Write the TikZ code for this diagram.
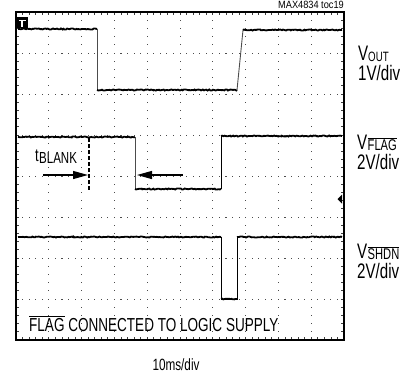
\documentclass[tikz,border=0pt]{standalone}
\usepackage{fontspec}
\setmainfont{Liberation Sans}[FakeStretch=0.72]
\usetikzlibrary{decorations.pathmorphing,arrows.meta}
\newcommand{\ovl}[1]{\ensuremath{\overline{\mbox{#1}}}}
\begin{document}
\begin{tikzpicture}[x=1pt,y=-1pt,
  trace/.style={line width=1.8pt, decorate, decoration={random steps,segment length=1.3pt,amplitude=0.55pt}},
  edgeline/.style={line width=0.9pt, draw=black!70},
  lbl/.style={anchor=base west, inner sep=0pt},
  dotmark/.style={fill=black!70},
  arr/.style={line width=1.2pt,-{Triangle[length=15pt,width=8pt]}},
]
\useasboundingbox (0,0) rectangle (412,376);
\pgfmathsetseed{7}
% grid dots
\foreach \j in {1,...,7}{\foreach \i in {0,...,50}{\fill[dotmark] (15.5+\i*6.56,11.5+\j*41) rectangle ++(1.1,1.1);}}
\foreach \i in {1,...,9}{\foreach \j in {0,...,40}{\fill[dotmark] (15.5+\i*32.8,11.5+\j*8.2) rectangle ++(1.1,1.1);}}
% border ticks
\foreach \i in {1,...,49}{\draw[black!75,line width=0.7pt] (16+\i*6.56,12) -- ++(0,3) (16+\i*6.56,340) -- ++(0,-3);}
\foreach \j in {1,...,39}{\draw[black!75,line width=0.7pt] (16,12+\j*8.2) -- ++(3,0) (344,12+\j*8.2) -- ++(-3,0);}
% frame
\draw[line width=2.4pt] (16,12) rectangle (344,340);
% V_OUT trace
\draw[trace] (18,29) -- (97,29);
\draw[edgeline] (97,29) -- (97,90);
\draw[trace] (97,90) -- (237,90);
\draw[edgeline] (237,90) -- (243,30);
\draw[trace] (243,30) -- (342,30);
% V_FLAG trace
\draw[trace] (18,137) -- (135,137);
\draw[edgeline] (135,137) -- (135,189);
\draw[trace] (135,189) -- (221,189);
\draw[edgeline,draw=black] (221,189) -- (221,136);
\draw[trace] (221,136) -- (342,136);
% V_SHDN trace
\draw[trace] (18,237) -- (221,237);
\draw[edgeline,draw=black] (221,237) -- (221,299) -- (237,299) -- (237,237);
\draw[trace] (221,299) -- (237,299);
\draw[trace] (237,237) -- (342,237);
% trigger marker
\fill (17,17) rectangle (27.5,28);
\fill[white] (19,19.5) rectangle (25.5,21.3);
\fill[white] (21.3,19.5) rectangle (23.2,26.5);
% right marker
\fill (342,194.5) -- (337.5,199) -- (342,203.5) -- cycle;
% t_BLANK
\draw[line width=1.3pt,dash pattern=on 3.5pt off 2.5pt] (89,138) -- (89,191);
\coordinate (a1s) at (43,175);
\coordinate (a1e) at (88,175);
\coordinate (a2s) at (183,175);
\coordinate (a2e) at (137,175);
\draw[arr] (a1s) -- (a1e);
\draw[arr] (a2s) -- (a2e);
\node[lbl] (tb) at (35,161) {\fontsize{18}{20}\selectfont t};
\node[lbl] (tbs) at (39,163.5) {\fontsize{16}{18}\selectfont BLANK};
% right labels
\node[lbl] (vo) at (358,60) {\fontsize{21}{22}\selectfont V};
\node[lbl] (vosub) at (368,61) {\fontsize{13.5}{14}\selectfont OUT};
\node[lbl] (vodiv) at (358,80) {\fontsize{21}{22}\selectfont 1V/div};
\node[lbl] (vf) at (357,149) {\fontsize{21}{22}\selectfont V};
\node[lbl] (vfsub) at (367.5,150) {\fontsize{15.5}{16}\selectfont \ovl{FLAG}};
\node[lbl] (vfdiv) at (357,169) {\fontsize{21}{22}\selectfont 2V/div};
\node[lbl] (vs) at (357,258.5) {\fontsize{21}{22}\selectfont V};
\node[lbl] (vssub) at (367.5,259.5) {\fontsize{15.5}{16}\selectfont \ovl{SHDN}};
\node[lbl] (vsdiv) at (357,278.5) {\fontsize{21}{22}\selectfont 2V/div};
% bottom text
\node[lbl] (flagtxt) at (29,331) {\fontsize{18.8}{20}\selectfont \ovl{FLAG} CONNECTED TO LOGIC SUPPLY};
\node[anchor=base,inner sep=0pt] (tdiv) at (176,370) {\fontsize{16.3}{18}\selectfont 10ms/div};
\node[anchor=base east,inner sep=0pt] (toc) at (344,8.8) {\scalebox{1.22}[1]{\fontsize{10.5}{11}\selectfont MAX4834 toc19}};
\end{tikzpicture}
\end{document}
